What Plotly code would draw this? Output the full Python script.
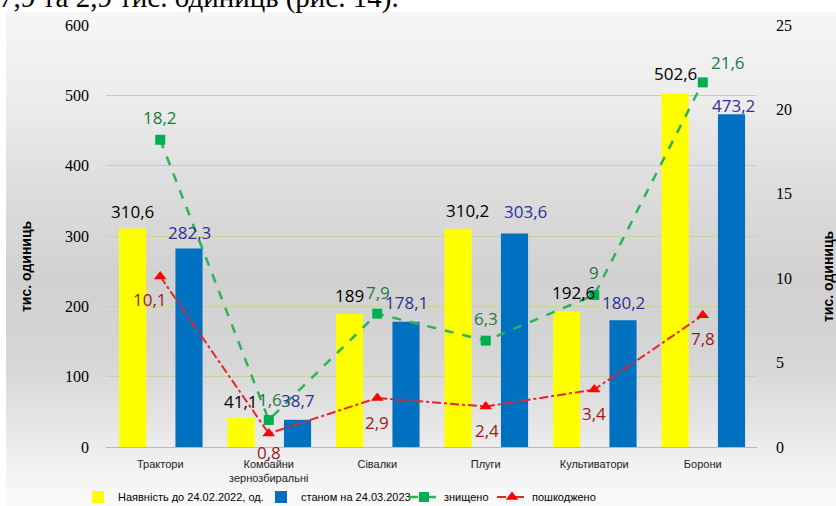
import plotly.graph_objects as go

# ---------------- data ----------------
categories = ['Трактори', 'Комбайни<br>зернозбиральні', 'Сівалки', 'Плуги', 'Культиватори', 'Борони']
available_2022 = [310.6, 41.1, 189, 310.2, 192.6, 502.6]
as_of_2023 = [282.3, 38.7, 178.1, 303.6, 180.2, 473.2]
destroyed = [18.2, 1.6, 7.9, 6.3, 9, 21.6]
damaged = [10.1, 0.8, 2.9, 2.4, 3.4, 7.8]
left_ticks = [0, 100, 200, 300, 400, 500, 600]
right_ticks = [0, 5, 10, 15, 20, 25]
series_names = ['Наявність до 24.02.2022, од.', 'станом на 24.03.2023', 'знищено', 'пошкоджено']
axis_title = 'тис. одиниць'
top_text = '7,9 та 2,9 тис. одиниць (рис. 14).'

# ---------------- geometry / style ----------------
W, H = 836, 506
L, R, T, B = 106, 757, 25, 447


def px(xp):
    return xp / W


def py(yp):
    return (H - yp) / H


def fmt(v):
    return ('%g' % v).replace('.', ',')


idx = list(range(len(categories)))
BAR_W = 0.25
OFF_Y, OFF_B = -0.38, 0.14

YELLOW, BLUE = '#ffff00', '#0070c0'
GREEN_LINE, GREEN_MK, GREEN_TXT = '#2bb35a', '#00b050', '#1e7a3e'
RED_LINE, RED_MK, RED_TXT = '#e8242c', '#ff0000', '#a01818'
BLUE_TXT = '#2f2f9e'
GRID = '#c6d49a'
LABEL_FONT = 'Open Sans'

fig = go.Figure()

fig.add_trace(go.Bar(x=idx, y=available_2022, width=BAR_W, offset=OFF_Y,
                     marker=dict(color=YELLOW, line_width=0), name=series_names[0],
                     legend='legend'))
fig.add_trace(go.Bar(x=idx, y=as_of_2023, width=BAR_W, offset=OFF_B,
                     marker=dict(color=BLUE, line_width=0), name=series_names[1],
                     legend='legend2'))
fig.add_trace(go.Scatter(x=idx, y=destroyed, yaxis='y2', mode='lines+markers',
                         line=dict(color=GREEN_LINE, width=2.5, dash='dash'),
                         marker=dict(symbol='square', size=10, color=GREEN_MK),
                         name=series_names[2], legend='legend3', cliponaxis=False))
fig.add_trace(go.Scatter(x=idx, y=damaged, yaxis='y2', mode='lines+markers',
                         line=dict(color=RED_LINE, width=2, dash='dashdot'),
                         marker=dict(symbol='triangle-up', size=11, color=RED_MK),
                         name=series_names[3], legend='legend4', cliponaxis=False))

annotations = []
# label offsets in pixels (style)
y_dx = [0, 0, 0, 9, 7, 0]
y_up = [17, 17, 19, 18, 19, 20]
b_dx = [0, 0, 0, 11, 0, 2]
b_up = [16, 19, 19, 22, 18, 9]
g_dx = [0, 1, 1, 0, 0, 25]
g_up = [22, 20, 21, 22, 23, 20]
r_dx = [-10, 0, 0, 1, 0, 0]
r_up = [-23, -19, -24, -24, -24, -23]

for i in idx:
    annotations.append(dict(x=i + OFF_Y + BAR_W / 2, y=available_2022[i], xref='x', yref='y',
                            text=fmt(available_2022[i]), showarrow=False, xshift=y_dx[i], yshift=y_up[i],
                            font=dict(family=LABEL_FONT, size=17, color='#000000')))
    annotations.append(dict(x=i + OFF_B + BAR_W / 2, y=as_of_2023[i], xref='x', yref='y',
                            text=fmt(as_of_2023[i]), showarrow=False, xshift=b_dx[i], yshift=b_up[i],
                            font=dict(family=LABEL_FONT, size=17, color=BLUE_TXT)))
    annotations.append(dict(x=i, y=destroyed[i], xref='x', yref='y2',
                            text=fmt(destroyed[i]), showarrow=False, xshift=g_dx[i], yshift=g_up[i],
                            font=dict(family=LABEL_FONT, size=17, color=GREEN_TXT)))
    annotations.append(dict(x=i, y=damaged[i], xref='x', yref='y2',
                            text=fmt(damaged[i]), showarrow=False, xshift=r_dx[i], yshift=r_up[i],
                            font=dict(family=LABEL_FONT, size=17, color=RED_TXT)))

# axis titles
annotations.append(dict(x=px(26), y=py(266), xref='paper', yref='paper', xanchor='center', yanchor='middle',
                        text='<b>' + axis_title + '</b>',
                        textangle=-90, showarrow=False, font=dict(family='Liberation Sans', size=14, color='#000')))
annotations.append(dict(x=px(828), y=py(276), xref='paper', yref='paper', xanchor='center', yanchor='middle',
                        text='<b>' + axis_title + '</b>',
                        textangle=-90, showarrow=False, font=dict(family='Liberation Sans', size=14, color='#000')))
# cropped page text above the chart
annotations.append(dict(x=px(-3), y=py(16), xref='paper', yref='paper', xanchor='left', yanchor='bottom',
                        text=top_text, showarrow=False,
                        font=dict(family='Liberation Serif', size=29, color='#000')))

# background vertical gradient (style)
stops = [(12, 246), (100, 236), (200, 219), (280, 209), (360, 214), (430, 231), (470, 243), (506, 250)]
shapes = []
step = 4
yy = 12
while yy < 506:
    y_mid = yy + step / 2
    for (a, ca), (b, cb) in zip(stops[:-1], stops[1:]):
        if a <= y_mid <= b:
            c = int(round(ca + (cb - ca) * (y_mid - a) / (b - a)))
            break
    shapes.append(dict(type='rect', xref='paper', yref='paper', layer='below',
                       x0=px(6), x1=px(836), y0=py(min(yy + step + 0.5, 506)), y1=py(yy),
                       line=dict(width=0), fillcolor='rgb(%d,%d,%d)' % (c, c, c)))
    yy += step

legend_common = dict(orientation='h', yanchor='middle', y=py(497), xanchor='left',
                     bgcolor='rgba(0,0,0,0)', borderwidth=0,
                     font=dict(family='Liberation Sans', size=11, color='#000'))

fig.update_layout(
    width=W, height=H,
    margin=dict(l=0, r=0, t=0, b=0, pad=0, autoexpand=False),
    paper_bgcolor='white', plot_bgcolor='rgba(0,0,0,0)',
    barmode='overlay',
    showlegend=True,
    legend=dict(x=px(78), **legend_common),
    legend2=dict(x=px(261), **legend_common),
    legend3=dict(x=px(404), **legend_common),
    legend4=dict(x=px(492), **legend_common),
    xaxis=dict(domain=[L / W, R / W], range=[-0.5, len(categories) - 0.5], tickmode='array',
               tickvals=idx, ticktext=categories, automargin=False,
               showgrid=False, zeroline=False, showline=False, ticks='',
               ticklabelstandoff=9,
               tickfont=dict(family='Liberation Sans', size=11, color='#222')),
    yaxis=dict(domain=[(H - B) / H, (H - T) / H], range=[0, 600], tickmode='array', tickvals=left_ticks,
               automargin=False, showgrid=True, gridcolor=GRID,
               gridwidth=1, zeroline=True, zerolinecolor='#bdbda6', zerolinewidth=1, showline=False,
               ticks='', ticklabelstandoff=16,
               tickfont=dict(family='Liberation Serif', size=16, color='#000')),
    yaxis2=dict(range=[0, 25], tickmode='array', tickvals=right_ticks, overlaying='y', side='right',
                automargin=False, showgrid=False, zeroline=False, showline=False, ticks='',
                ticklabelstandoff=18,
                tickfont=dict(family='Liberation Serif', size=16, color='#000')),
    annotations=annotations,
    shapes=shapes,
)

fig.write_html('out.html', config={'displayModeBar': False},
               post_script="document.body.style.margin='0';document.body.style.overflow='hidden';")
